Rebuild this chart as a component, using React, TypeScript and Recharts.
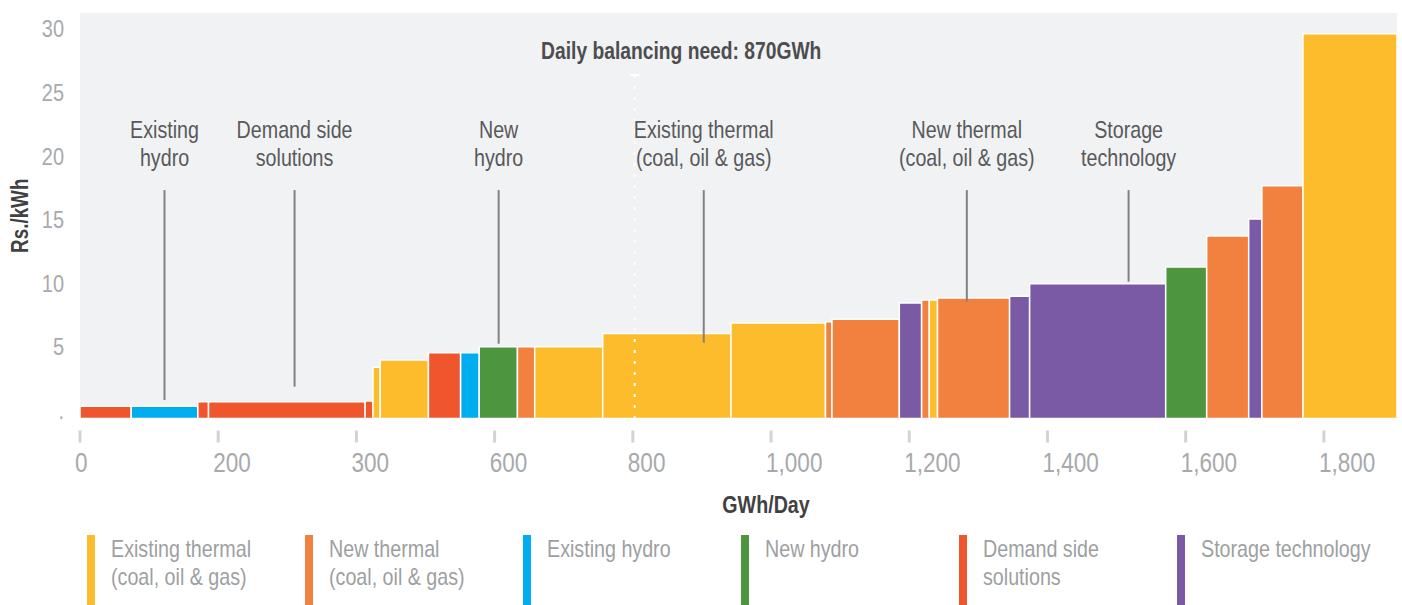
import {
  ComposedChart,
  Line,
  XAxis,
  YAxis,
  CartesianGrid,
  ReferenceArea,
  ReferenceLine,
  ReferenceDot,
} from "recharts";

// Liberation Sans squeezed horizontally stands in for the narrow face of the original
const FONT = '"Liberation Sans", Arial, sans-serif';
const SQUEEZE = 0.82;

// technologies (legend order)
const TECH_KEYS = ["thermal", "newThermal", "hydro", "newHydro", "demand", "storage"];
const TECH_LABELS = [
  ["Existing thermal", "(coal, oil & gas)"],
  ["New thermal", "(coal, oil & gas)"],
  ["Existing hydro"],
  ["New hydro"],
  ["Demand side", "solutions"],
  ["Storage technology"],
];
const TECH_COLORS = ["#fdbc2b", "#f2803e", "#00aeef", "#4d963f", "#f0562d", "#7a5aa5"];

// supply curve blocks, cheapest first
const BLOCK_TECH = [
  "demand", "hydro", "demand", "demand", "demand", "thermal", "thermal",
  "demand", "hydro", "newHydro", "newThermal", "thermal", "thermal", "thermal",
  "newThermal", "newThermal", "storage", "newThermal", "thermal", "newThermal",
  "storage", "storage", "newHydro", "newThermal", "storage", "newThermal", "thermal",
];
const BLOCK_GWH = [
  74.1, 96.4, 15.5, 226.6, 11.3, 10.5, 69.8, 46.6, 26.9, 55.3, 25.0, 98.4, 185.6, 136.8,
  9.4, 97.4, 32.3, 11.1, 11.9, 104.3, 29.0, 196.9, 59.3, 60.8, 19.1, 59.4, 136.1,
];
const BLOCK_COST = [
  0.34, 0.34, 0.7, 0.7, 0.75, 3.4, 3.98, 4.55, 4.55, 5.02, 5.02, 5.02, 6.06, 6.89,
  6.99, 7.18, 8.46, 8.69, 8.69, 8.85, 8.99, 9.98, 11.29, 13.73, 15.06, 17.68, 29.63,
];

const X_TICKS = [0, 200, 400, 600, 800, 1000, 1200, 1400, 1600, 1800];
// the source chart labels the 400 tick as "300"
const X_TICK_LABELS = ["0", "200", "300", "600", "800", "1,000", "1,200", "1,400", "1,600", "1,800"];
const Y_TICKS = [0, 5, 10, 15, 20, 25, 30];

// callouts above the curve
const NOTE_TEXT = [
  ["Existing", "hydro"],
  ["Demand side", "solutions"],
  ["New", "hydro"],
  ["Existing thermal", "(coal, oil & gas)"],
  ["New thermal", "(coal, oil & gas)"],
  ["Storage", "technology"],
];
const NOTE_X = [122.3, 310.5, 605.8, 902.6, 1283.3, 1517.4];
const NOTE_Y_END = [0.83, 1.88, 5.26, 5.34, 8.56, 10.13];
const NOTE_Y_TOP = 17.34;

const NEED_X = 802.7;
const NEED_TOP = 26.38;
const TITLE_X = 870;
const TITLE_Y = 27.62;

const X_MAX = 1905.8;
const Y_MIN = -0.62;
const Y_MAX = 31.26;

let acc = 0;
const blocks = BLOCK_GWH.map((w, i) => {
  const x1 = acc;
  acc += w;
  return { x1, x2: acc, mid: x1 + w / 2, cost: BLOCK_COST[i], tech: BLOCK_TECH[i] };
});

const colorOf = (tech: string) => TECH_COLORS[TECH_KEYS.indexOf(tech)];

// narrow svg text: lines stacked from the first baseline
const NText = ({
  x, y, lines, size, fill, weight = 400, anchor = "middle", lineHeight = 27.4, rotate = 0, dy = 0, squeeze = SQUEEZE,
}: any) => (
  <text
    transform={`translate(${x},${y}) rotate(${rotate}) scale(${squeeze},1)`}
    textAnchor={anchor}
    fill={fill}
    fontSize={size}
    fontWeight={weight}
    fontFamily={FONT}
  >
    {lines.map((l: string, i: number) => (
      <tspan key={i} x={0} y={i * lineHeight} dy={dy}>
        {l}
      </tspan>
    ))}
  </text>
);

const XTick = (props: any) => {
  const { x, y, payload, index } = props;
  return (
    <g>
      <line x1={x} x2={x} y1={y + 12} y2={y + 24} stroke="#d1d3d4" strokeWidth={3} />
      <NText
        x={x - 5}
        y={y + 53}
        lines={[X_TICK_LABELS[index] ?? String(payload.value)]}
        size={27.5}
        fill="#a7a9ac"
        anchor="start"
      />
    </g>
  );
};

const YTick = (props: any) => {
  const { x, y, payload } = props;
  const label = payload.value === 0 ? "." : String(payload.value);
  return <NText x={x} y={y} dy={8.3} lines={[label]} size={23.5} squeeze={0.85} fill="#a7a9ac" anchor="end" />;
};

const noteLabel = (lines: string[]) => (props: any) => {
  const vb = props.viewBox;
  return <NText x={vb.x} y={vb.y - 51.7} lines={lines} size={24} fill="#58595b" />;
};

const titleLabel = (props: any) => {
  const vb = props.viewBox;
  return (
    <NText
      x={vb.x + vb.width / 2}
      y={vb.y + vb.height / 2}
      lines={["Daily balancing need: 870GWh"]}
      size={23.5}
      weight={700}
      fill="#4d4d4f"
    />
  );
};

const App = () => {
  return (
    <div style={{ position: "absolute", left: 0, top: 0, width: 1402, height: 605, background: "#fff" }}>
      <ComposedChart
        width={1402}
        height={605}
        data={blocks}
        margin={{ top: 13, right: 5, bottom: 86.5, left: 0 }}
      >
        <CartesianGrid fill="#f1f2f4" stroke="none" horizontal={false} vertical={false} />
        <XAxis
          type="number"
          dataKey="mid"
          domain={[0, X_MAX]}
          ticks={X_TICKS}
          interval={0}
          height={100}
          axisLine={false}
          tickLine={false}
          tickSize={0}
          tickMargin={0}
          tick={<XTick />}
          label={(props: any) => {
            const vb = props.viewBox;
            return (
              <NText x={vb.x + vb.width / 2 + 27.5} y={513} lines={["GWh/Day"]} size={24} weight={700} fill="#414042" />
            );
          }}
        />
        <YAxis
          type="number"
          domain={[Y_MIN, Y_MAX]}
          ticks={Y_TICKS}
          interval={0}
          width={80}
          axisLine={false}
          tickLine={false}
          tickSize={8}
          tickMargin={8}
          tick={<YTick />}
          label={(props: any) => {
            const vb = props.viewBox;
            const cy = vb.y + vb.height / 2;
            return <NText x={28} y={cy} rotate={-90} lines={["Rs./kWh"]} size={23} weight={700} fill="#414042" />;
          }}
        />
        {blocks.map((b, i) => (
          <ReferenceArea
            key={i}
            x1={b.x1}
            x2={b.x2}
            y1={Y_MIN}
            y2={b.cost}
            fill={colorOf(b.tech)}
            fillOpacity={1}
            stroke="#ffffff"
            strokeWidth={1.5}
          />
        ))}
        {/* invisible trace of block costs keeps the chart's axes populated */}
        <Line dataKey="cost" stroke="none" dot={false} activeDot={false} isAnimationActive={false} />
        <ReferenceLine
          segment={[
            { x: NEED_X, y: NEED_TOP },
            { x: NEED_X, y: Y_MIN },
          ]}
          stroke="#ffffff"
          strokeWidth={2}
          strokeDasharray="3 8"
        />
        <ReferenceLine
          segment={[
            { x: NEED_X - 7.2, y: NEED_TOP },
            { x: NEED_X + 7.2, y: NEED_TOP },
          ]}
          stroke="#ffffff"
          strokeWidth={2}
        />
        <ReferenceDot x={TITLE_X} y={TITLE_Y} r={1} fillOpacity={0} stroke="none" label={titleLabel} />
        {NOTE_TEXT.map((lines, i) => (
          <ReferenceLine
            key={i}
            segment={[
              { x: NOTE_X[i], y: NOTE_Y_TOP },
              { x: NOTE_X[i], y: NOTE_Y_END[i] },
            ]}
            stroke="#808285"
            strokeWidth={2}
            label={noteLabel(lines)}
          />
        ))}
      </ComposedChart>
      <div style={{ position: "absolute", left: 0, top: 535, width: 1402, height: 70 }}>
        {TECH_KEYS.map((k, i) => (
          <div
            key={k}
            style={{ position: "absolute", left: 87 + i * 218, top: 0, height: 70, display: "flex" }}
          >
            <div style={{ width: 8, height: 70, background: TECH_COLORS[i] }} />
            <div
              style={{
                marginLeft: 15.5,
                fontSize: 24,
                lineHeight: "27.7px",
                color: "#9d9fa2",
                fontFamily: FONT,
                whiteSpace: "nowrap",
                transform: `scaleX(${SQUEEZE})`,
                transformOrigin: "left top",
              }}
            >
              {TECH_LABELS[i].map((l, j) => (
                <div key={j}>{l}</div>
              ))}
            </div>
          </div>
        ))}
      </div>
    </div>
  );
};

export default App;
